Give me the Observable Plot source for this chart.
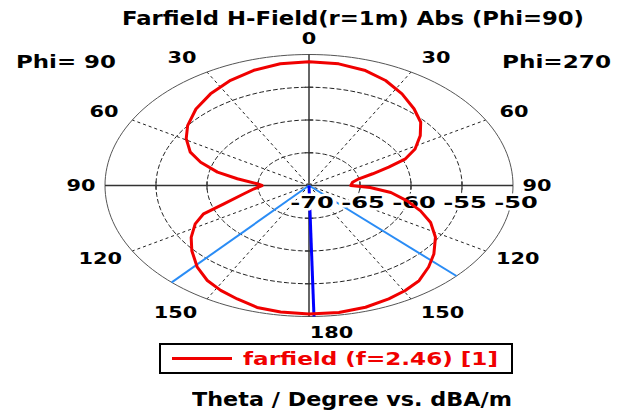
<!DOCTYPE html>
<html><head><meta charset="utf-8">
<script src="https://cdn.jsdelivr.net/npm/d3@7"></script>
<script src="https://cdn.jsdelivr.net/npm/@observablehq/plot@0.6"></script>
<style>
html,body{margin:0;padding:0;background:#fff;}
#wrap{position:relative;width:624px;height:414px;overflow:hidden;background:#fff;}
#wrap svg{position:absolute;left:0;top:0;}
.lbl{position:absolute;white-space:nowrap;font-family:"DejaVu Sans",sans-serif;font-weight:bold;transform-origin:0 0;}
</style></head><body><div id="wrap"></div>
<script>
// ---------------- data ----------------
const chartTitle = "Farfield H-Field(r=1m) Abs (Phi=90)";
const leftLabel = "Phi= 90";
const rightLabel = "Phi=270";
const axisCaption = "Theta / Degree vs. dBA/m";
const seriesName = "farfield (f=2.46) [1]";
const thetaTicks = [0, 30, 60, 90, 120, 150, 180];
const dbTicks = [-70, -65, -60, -55, -50];

// Phi=270 half (drawn on the right)
const thetaPhi270 = [0, 8.9, 17.5, 25.1, 33.1, 41.3, 48.6, 55.1, 61.8, 66.7, 70.3, 74, 78.2, 83.3, 90, 92.9, 97.6, 103.7, 109.5, 115.4, 122.5, 130.5, 136.7, 143.4, 149.5, 155.7, 163.4, 171.4, 180];
const dbPhi270 = [-51.1, -51.2, -51.6, -52.3, -53.3, -54.4, -55.4, -56.7, -58.2, -59.7, -61.7, -63.5, -65.0, -65.7, -65.9, -64.0, -61.9, -60.1, -58.4, -56.8, -55.3, -53.9, -52.9, -51.9, -51.4, -51.0, -50.6, -50.4, -50.4];
// Phi=90 half (drawn on the left)
const thetaPhi90 = [0, 8.6, 17.1, 25.6, 34.6, 43.5, 52.5, 59.3, 66.4, 71.5, 77.2, 81.7, 87, 90, 95.3, 101.2, 108.5, 112.7, 117.7, 124.4, 130.9, 138.7, 145.5, 151.6, 157.9, 164.7, 171.8, 180];
const dbPhi90 = [-51.1, -51.2, -51.6, -52.2, -53.0, -53.9, -55.0, -56.0, -57.3, -58.8, -60.8, -62.9, -64.9, -65.4, -64.6, -63.5, -61.2, -58.8, -57.4, -56.0, -54.8, -53.4, -52.4, -51.8, -51.3, -50.7, -50.5, -50.4];

const mainLobeTheta270 = 178.6;   // main lobe direction (Phi=270 side)
const beamEdgeTheta270 = 133.7;   // angular width edge, Phi=270 side
const beamEdgeTheta90 = 137.7;    // angular width edge, Phi=90 side

// ---------------- geometry ----------------
const W = 624, H = 414, CX = 308.5, CY = 185, RX = 204, RY = 131;
const rMin = d3.min(dbTicks), rMax = d3.max(dbTicks);
const rad = db => (db - rMin) / (rMax - rMin);
const D2R = Math.PI / 180;
// signed angle a: clockwise from top; Phi=270 side positive, Phi=90 side negative
const sx = (a, r) => r * Math.sin(a * D2R);
const sy = (a, r) => r * Math.cos(a * D2R);

const pattern = [
  ...thetaPhi270.map((t, i) => ({a: t, db: dbPhi270[i]})),
  ...thetaPhi90.map((t, i) => ({a: -t, db: dbPhi90[i]})).reverse()
];
const ringSteps = d3.range(0, 361, 2);
const innerRings = dbTicks.slice(1, -1);
const rings = innerRings.flatMap(db => ringSteps.map(a => ({db, a})));
const outer = ringSteps.map(a => ({db: rMax, a}));
const spokeAngles = thetaTicks.filter(t => t % 90 !== 0).flatMap(t => [t, -t]);
const angleLabels = thetaTicks.flatMap(t => (t === 0 || t === 180) ? [{t, a: t}] : [{t, a: t}, {t, a: -t}]);
const axisTicks = innerRings.flatMap(db => [0, 90, 180, -90].map(a => ({db, a})));
const lobeLines = [{a: mainLobeTheta270}];
const beamLines = [{a: beamEdgeTheta270}, {a: -beamEdgeTheta90}];

const font = "DejaVu Sans";
const labelX = d => {
  const s = Math.sin(d.a * D2R), c = Math.cos(d.a * D2R);
  const w = 15 * String(d.t).length;
  return (s * (RX + 24) + Math.sign(s) * (w / 2) * Math.abs(c)) / RX;
};
const labelY = d => Math.cos(d.a * D2R) * (RY + 16) / RY;

const chart = Plot.plot({
  width: W, height: H,
  marginLeft: CX - RX, marginRight: W - (CX + RX),
  marginTop: CY - RY, marginBottom: H - (CY + RY),
  x: {domain: [-1, 1], axis: null},
  y: {domain: [-1, 1], axis: null},
  style: {background: "transparent", overflow: "visible"},
  marks: [
    // dashed rings
    Plot.line(rings, {x: d => sx(d.a, rad(d.db)), y: d => sy(d.a, rad(d.db)), z: "db",
      stroke: "#222", strokeWidth: 1, strokeDasharray: "4,3"}),
    // dashed spokes
    Plot.link(spokeAngles, {x1: () => 0, y1: () => 0, x2: a => sx(a, 1), y2: a => sy(a, 1),
      stroke: "#222", strokeWidth: 1, strokeDasharray: "3,3"}),
    // outer ring
    Plot.line(outer, {x: d => sx(d.a, 1), y: d => sy(d.a, 1), stroke: "#555", strokeWidth: 1}),
    // axes
    Plot.link([0, 90], {x1: a => sx(a, 1), y1: a => sy(a, 1), x2: a => sx(a + 180, 1), y2: a => sy(a + 180, 1),
      stroke: "#333", strokeWidth: 1.5}),
    // ticks on axes
    Plot.link(axisTicks, {
      x1: d => sx(d.a, rad(d.db)) - (Math.abs(Math.cos(d.a * D2R)) > 0.5 ? 4 / RX : 0),
      x2: d => sx(d.a, rad(d.db)) + (Math.abs(Math.cos(d.a * D2R)) > 0.5 ? 4 / RX : 0),
      y1: d => sy(d.a, rad(d.db)) - (Math.abs(Math.sin(d.a * D2R)) > 0.5 ? 4 / RY : 0),
      y2: d => sy(d.a, rad(d.db)) + (Math.abs(Math.sin(d.a * D2R)) > 0.5 ? 4 / RY : 0),
      stroke: "#333", strokeWidth: 1.2}),
    // angular width lines
    Plot.link(beamLines, {x1: () => 0, y1: () => 0, x2: d => sx(d.a, 1), y2: d => sy(d.a, 1),
      stroke: "#2a8cf5", strokeWidth: 2}),
    // main lobe
    Plot.link(lobeLines, {x1: () => 0, y1: () => 0, x2: d => sx(d.a, 1), y2: d => sy(d.a, 1),
      stroke: "#0000ff", strokeWidth: 3}),
    // radial tick labels
    Plot.text(dbTicks, {x: db => rad(db) + 3 / RX, y: () => -17 / RY, text: db => String(db),
      fontFamily: font, fontWeight: "bold", fontSize: 16, fill: "#000",
      stroke: "white", strokeWidth: 5}),
    // angle labels
    Plot.text(angleLabels, {x: labelX, y: labelY, text: d => String(d.t),
      fontFamily: font, fontWeight: "bold", fontSize: 16, fill: "#000"}),
    // pattern
    Plot.line(pattern, {x: d => sx(d.a, rad(d.db)), y: d => sy(d.a, rad(d.db)),
      stroke: "#f00000", strokeWidth: 3, strokeLinejoin: "round"})
  ]
});

const wrap = document.getElementById("wrap");
wrap.appendChild(chart);
// widen the glyphs like the reference
d3.select(chart).selectAll("text").each(function () {
  const n = this.textContent.length;
  this.setAttribute("textLength", 14.5 * n);
  this.setAttribute("lengthAdjust", "spacingAndGlyphs");
});

function addText(str, x0, x1, baseline, size, color) {
  const s = document.createElement("span");
  s.className = "lbl";
  s.textContent = str;
  s.style.fontSize = size + "px";
  s.style.lineHeight = size + "px";
  s.style.color = color || "#000";
  wrap.appendChild(s);
  const w = s.getBoundingClientRect().width;
  s.style.left = x0 + "px";
  s.style.top = (baseline - 0.846 * size) + "px";
  s.style.transform = `scaleX(${(x1 - x0) / w})`;
  return s;
}
addText(chartTitle, 122, 584, 25, 19);
addText(leftLabel, 16, 116, 68, 18);
addText(rightLabel, 502, 611, 68, 18);
addText(axisCaption, 192, 512, 406, 19);

// legend
const box = document.createElement("div");
Object.assign(box.style, {position: "absolute", left: "159px", top: "343px", width: "354px", height: "31px",
  border: "2px solid #000", boxSizing: "border-box", background: "#fff"});
wrap.appendChild(box);
const sw = document.createElement("div");
Object.assign(sw.style, {position: "absolute", left: "172px", top: "357px", width: "60px", height: "3px", background: "#f00000"});
wrap.appendChild(sw);
addText(seriesName, 243, 498, 365, 18, "#f00000");
</script></body></html>
